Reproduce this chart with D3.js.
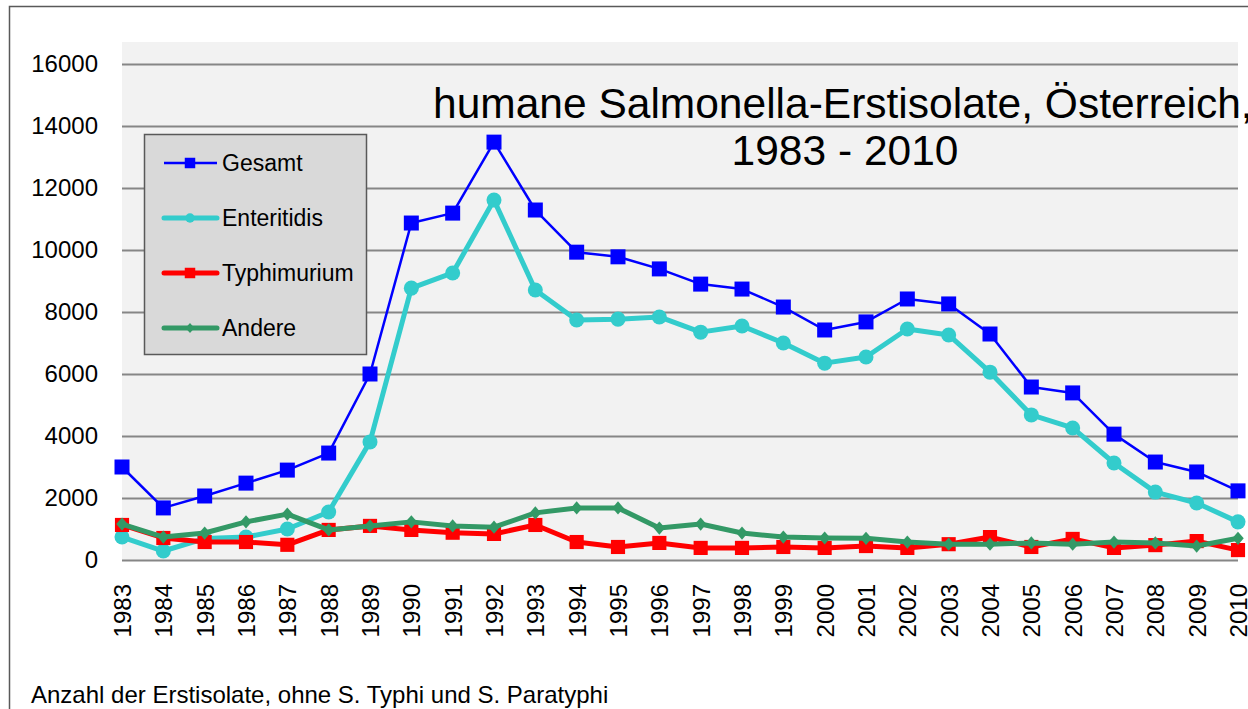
<!DOCTYPE html>
<html><head><meta charset="utf-8">
<script src="https://cdn.jsdelivr.net/npm/d3@7"></script>
<style>
html,body{margin:0;padding:0;background:#fff;}
svg{display:block;font-family:"Liberation Sans",Arial,sans-serif;}
</style></head>
<body>
<svg id="chart" width="1248" height="709"></svg>
<script>
const years = [1983,1984,1985,1986,1987,1988,1989,1990,1991,1992,1993,1994,1995,1996,1997,1998,1999,2000,2001,2002,2003,2004,2005,2006,2007,2008,2009,2010];
const gesamt = [3000,1680,2065,2480,2900,3450,6000,10870,11190,13480,11290,9930,9780,9390,8900,8740,8160,7420,7680,8420,8260,7290,5580,5390,4060,3160,2840,2230];
const enteritidis = [740,290,690,740,1000,1550,3810,8770,9260,11610,8710,7740,7770,7840,7350,7550,7000,6350,6550,7450,7260,6060,4680,4260,3130,2190,1840,1230];
const typhimurium = [1130,710,580,580,490,970,1100,970,880,840,1130,580,420,550,390,390,420,390,450,390,510,740,420,680,390,480,610,320];
const andere = [1160,740,870,1230,1480,970,1100,1230,1100,1060,1520,1680,1680,1030,1160,870,740,710,700,580,510,510,550,510,580,550,450,700];
const yTicks = [0,2000,4000,6000,8000,10000,12000,14000,16000];
const seriesNames = ["Gesamt","Enteritidis","Typhimurium","Andere"];
const titleLines = ["humane Salmonella-Erstisolate, Österreich,","1983 - 2010"];
const footnote = "Anzahl der Erstisolate, ohne S. Typhi und S. Paratyphi";

const svg = d3.select("#chart");
const L = 122, R = 1238, T = 64, B = 560;

// outer frame
svg.append("rect").attr("x",9.5).attr("y",6.5).attr("width",1300).attr("height",800)
  .attr("fill","none").attr("stroke","#595959").attr("stroke-width",1.5);

const x = d3.scalePoint().domain(years).range([L,R]);
const y = d3.scaleLinear().domain([0,16000]).range([B,T]);

// plot background
svg.append("rect").attr("x",L).attr("y",42).attr("width",R-L).attr("height",B-42).attr("fill","#f2f2f2");

// gridlines + y tick labels
const yAxis = d3.axisLeft(y).tickValues(yTicks).tickSize(-(R-L)).tickPadding(24).tickFormat(d3.format("d"));
const gy = svg.append("g").attr("transform",`translate(${L},0)`).call(yAxis);
gy.select(".domain").remove();
gy.selectAll(".tick line").attr("stroke","#868686").attr("stroke-width",2);
gy.selectAll(".tick text").attr("font-size",24).attr("fill","#000").attr("font-family","Liberation Sans, Arial, sans-serif");

// x axis labels
const xAxis = d3.axisBottom(x).tickSize(0).tickPadding(0);
const gx = svg.append("g").attr("transform",`translate(0,${B})`).call(xAxis);
gx.select(".domain").remove();
gx.selectAll(".tick text")
  .attr("font-size",24).attr("fill","#000").attr("font-family","Liberation Sans, Arial, sans-serif")
  .attr("text-anchor","end").attr("dy","0.35em").attr("y",0).attr("x",0)
  .attr("transform","translate(0,24) rotate(-90)");

const line = d3.line().x((d,i)=>x(years[i])).y(d=>y(d));

const diamondWide = {draw(ctx,size){const r=Math.sqrt(size)/2*1.15; ctx.moveTo(0,-r*1.15); ctx.lineTo(r,0); ctx.lineTo(0,r*1.15); ctx.lineTo(-r,0); ctx.closePath();}};

function drawSeries(vals, color, width, marker, size){
  const g = svg.append("g");
  g.append("path").datum(vals).attr("d",line).attr("fill","none").attr("stroke",color)
    .attr("stroke-width",width).attr("stroke-linejoin","round");
  const sym = d3.symbol().type(marker).size(size);
  g.selectAll("path.m").data(vals).join("path").attr("class","m")
    .attr("d", sym)
    .attr("transform",(d,i)=>`translate(${x(years[i])},${y(d)})`)
    .attr("fill",color);
}

const colors = ["#0000ff","#33cccc","#ff0000","#339966"];
const widths = [2.5,5,5,5];
const markers = [d3.symbolSquare,d3.symbolCircle,d3.symbolSquare,diamondWide];
const sizes = [225,177,200,100];
const data = [gesamt,enteritidis,typhimurium,andere];
data.forEach((v,i)=>drawSeries(v,colors[i],widths[i],markers[i],sizes[i]));

// legend
const lg = svg.append("g");
lg.append("rect").attr("x",144.5).attr("y",134.5).attr("width",222).attr("height",220)
  .attr("fill","#d9d9d9").attr("stroke","#595959").attr("stroke-width",1.5);
const lSizes = [110,70,110,60];
seriesNames.forEach((n,i)=>{
  const cy = 163 + i*55;
  lg.append("line").attr("x1",164).attr("x2",217).attr("y1",cy).attr("y2",cy)
    .attr("stroke",colors[i]).attr("stroke-width",widths[i]).attr("stroke-linecap", i===0?"butt":"round");
  lg.append("path").attr("d",d3.symbol().type(markers[i]).size(lSizes[i])).attr("transform",`translate(190,${cy})`).attr("fill",colors[i]);
  lg.append("text").attr("x",222).attr("y",cy).attr("dy","0.36em").attr("font-size",23).text(n);
});

// title
svg.append("text").attr("x",433).attr("y",118).attr("font-size",42.5).text(titleLines[0]);
svg.append("text").attr("x",845).attr("y",165).attr("text-anchor","middle").attr("font-size",42.5).text(titleLines[1]);

// footnote
svg.append("text").attr("x",31).attr("y",703).attr("font-size",24).text(footnote);
</script>
</body></html>
